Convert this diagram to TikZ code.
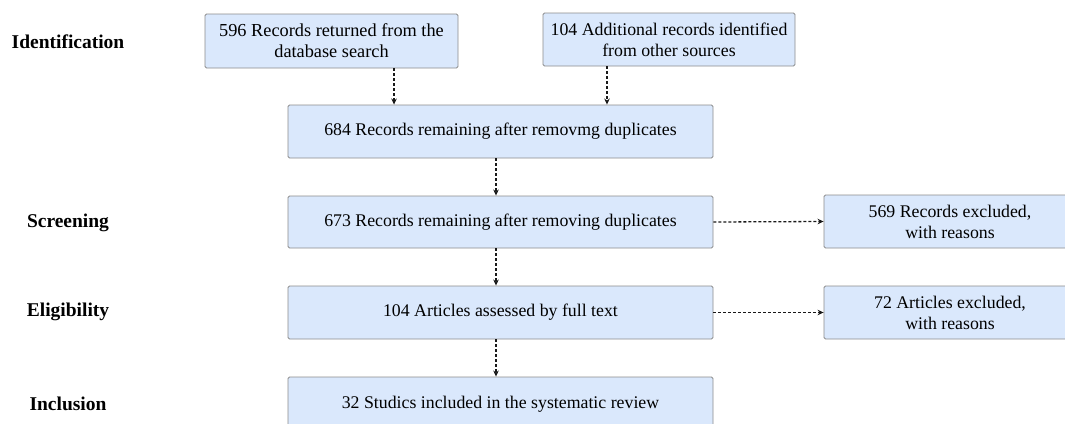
\documentclass[tikz,border=0pt]{standalone}
\usepackage{fontspec}
\setmainfont{Liberation Serif}
\usetikzlibrary{arrows.meta,calc}
\definecolor{boxfill}{HTML}{DAE8FC}
\definecolor{boxdraw}{HTML}{8C8C8C}
\tikzset{
  flowbox/.style={draw=boxdraw, fill=boxfill, line width=0.9pt, rounded corners=1.5pt,
    minimum height=53pt, align=center, inner sep=2pt,
    font=\fontsize{17.8}{21}\selectfont},
  widebox/.style={flowbox, minimum width=425pt},
  sidebox/.style={flowbox, minimum width=252pt},
  stagelabel/.style={font=\fontsize{19.5}{23}\selectfont\bfseries, anchor=center},
  arr/.style={draw=black!90, line width=1.3pt, dash pattern=on 3pt off 2pt,
    -{Stealth[length=6pt,width=5.5pt]}}
}
\begin{document}
\begin{tikzpicture}[x=1pt,y=-1pt]
\useasboundingbox (0,0) rectangle (1065,423);
\clip (0,0) rectangle (1065,423);

% stage labels
\node[stagelabel] (lid) at (68,42) {Identification};
\node[stagelabel] (lsc) at (68,223) {Screening};
\node[stagelabel] (lel) at (68,312) {Eligibility};
\node[stagelabel] (lin) at (68,404) {Inclusion};

% boxes
\node[sidebox, minimum width=253pt, minimum height=54pt, font=\fontsize{18.3}{21}\selectfont] (A) at (331.5,41) {596 Records returned from the\\database search};
\node[sidebox] (B) at (669,39.5) {104 Additional records identified\\from other sources};
\node[widebox] (C) at (500.5,131.5) {684 Records remaining after removmg duplicates};
\node[widebox, minimum height=52pt] (D) at (500.5,222) {673 Records remaining after removing duplicates};
\node[sidebox] (E) at (950,221.5) {569 Records excluded,\\with reasons};
\node[widebox] (F) at (500.5,312.5) {104 Articles assessed by full text};
\node[sidebox] (G) at (950,312.5) {72 Articles excluded,\\with reasons};
\node[widebox, minimum height=54pt] (H) at (500.5,404) {32 Studics included in the systematic review};

% connectors
\coordinate (c1) at ($(C.north west)!0.25!(C.north east)$);
\coordinate (c2) at ($(C.north west)!0.75!(C.north east)$);
\draw[arr] (A.south -| c1) -- (c1);
\draw[arr] (B.south -| c2) -- (c2);
\draw[arr] ([xshift=-4.5pt]C.south) -- ([xshift=-4.5pt]D.north);
\draw[arr] ([xshift=-4.5pt]D.south) -- ([xshift=-4.5pt]F.north);
\draw[arr] ([xshift=-4.5pt]F.south) -- ([xshift=-4.5pt]H.north);
\draw[arr] (D.east) -- (E.west);
\draw[arr] (F.east) -- (G.west);
\end{tikzpicture}
\end{document}
